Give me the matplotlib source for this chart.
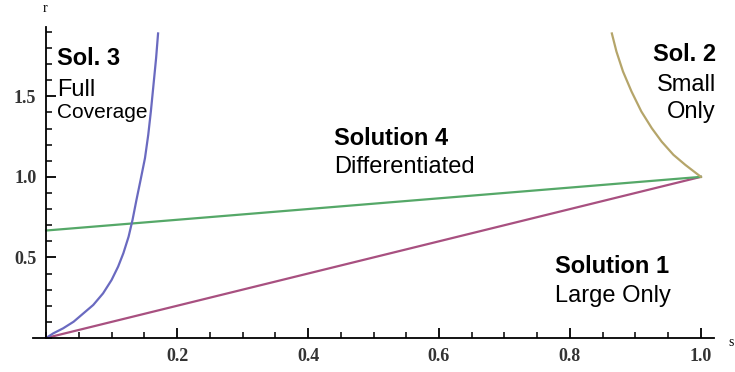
import matplotlib

matplotlib.use("Agg")
import matplotlib.pyplot as plt
from matplotlib.ticker import MultipleLocator, FixedLocator

# Solution 1: large only (straight line)
sol1_s = [0.0, 1.0]
sol1_r = [0.0, 1.0]
# Solution 4: differentiated (straight line)
sol4_s = [0.0, 1.0]
sol4_r = [0.667, 1.0]
# Solution 3: full coverage
sol3_s = [0.0, 0.011, 0.026, 0.042, 0.057, 0.072, 0.087, 0.100, 0.110, 0.118,
          0.126, 0.132, 0.138, 0.144, 0.151, 0.156, 0.160, 0.164, 0.168, 0.171]
sol3_r = [0.0, 0.029, 0.060, 0.101, 0.153, 0.205, 0.277, 0.360, 0.443, 0.526,
          0.629, 0.733, 0.857, 0.975, 1.116, 1.261, 1.406, 1.571, 1.737, 1.89]
# Solution 2: small only
sol2_s = [0.864, 0.871, 0.881, 0.894, 0.909, 0.925, 0.940, 0.958, 0.976, 1.0]
sol2_r = [1.89, 1.778, 1.654, 1.530, 1.406, 1.302, 1.219, 1.137, 1.075, 1.0]

x_ticks = [0.2, 0.4, 0.6, 0.8, 1.0]
y_ticks = [0.5, 1.0, 1.5]

fig = plt.figure(figsize=(7.35, 3.72), dpi=100)
ax = fig.add_axes([33 / 735, 1 - 338 / 372, (714 - 33) / 735, (338 - 27) / 372])
ax.set_xlim(-0.02, 1.02)
ax.set_ylim(0, 1.93)

ax.plot(sol1_s, sol1_r, color="#a85080", lw=1.6)
ax.plot(sol4_s, sol4_r, color="#55a868", lw=1.6)
ax.plot(sol3_s, sol3_r, color="#6a6ac0", lw=1.6)
ax.plot(sol2_s, sol2_r, color="#b5a56a", lw=1.6)

for side in ["top", "right"]:
    ax.spines[side].set_visible(False)
ax.spines["left"].set_position(("data", 0))
ax.spines["bottom"].set_position(("data", 0))
ax.spines["left"].set_linewidth(1.3)
ax.spines["bottom"].set_linewidth(1.3)

ax.xaxis.set_major_locator(FixedLocator(x_ticks))
ax.yaxis.set_major_locator(FixedLocator(y_ticks))
ax.xaxis.set_minor_locator(MultipleLocator(0.05))
ax.yaxis.set_minor_locator(MultipleLocator(0.1))
ax.set_xticklabels([f"{v:.1f}" for v in x_ticks])
ax.set_yticklabels([f"{v:.1f}" for v in y_ticks])
ax.tick_params(which="major", direction="in", length=7, width=1.3, labelsize=13, pad=7)
ax.tick_params(which="minor", direction="in", length=4, width=1.1)
for lab in ax.get_xticklabels() + ax.get_yticklabels():
    lab.set_family("Liberation Serif")
    lab.set_fontweight("bold")
    lab.set_color("#333333")
ax.patch.set_alpha(0)

# axis names
fig.text(45 / 735, 1 - 9 / 372, "r", family="Liberation Serif", fontsize=10, ha="center", va="center")
fig.text(731 / 735, 1 - 343 / 372, "s", family="Liberation Serif", fontsize=10, ha="center", va="center")

sans = "Liberation Sans"


def label(px, py, txt, size, bold=False, ha="left"):
    fig.text(px / 735, 1 - py / 372, txt, family=sans, fontsize=size,
             fontweight="bold" if bold else "normal", ha=ha, va="baseline")


label(57, 65, "Sol. 3", 17, bold=True)
label(57, 96, "Full", 17)
label(57, 118, "Coverage", 15)

label(716, 61, "Sol. 2", 17, bold=True, ha="right")
label(716, 91, "Small", 17, ha="right")
label(716, 118, "Only", 17, ha="right")

label(334, 145, "Solution 4", 17, bold=True)
label(334, 173, "Differentiated", 17)

label(555, 273, "Solution 1", 17, bold=True)
label(555, 302, "Large Only", 17)

fig.savefig("out.png", dpi=100)
plt.close(fig)
